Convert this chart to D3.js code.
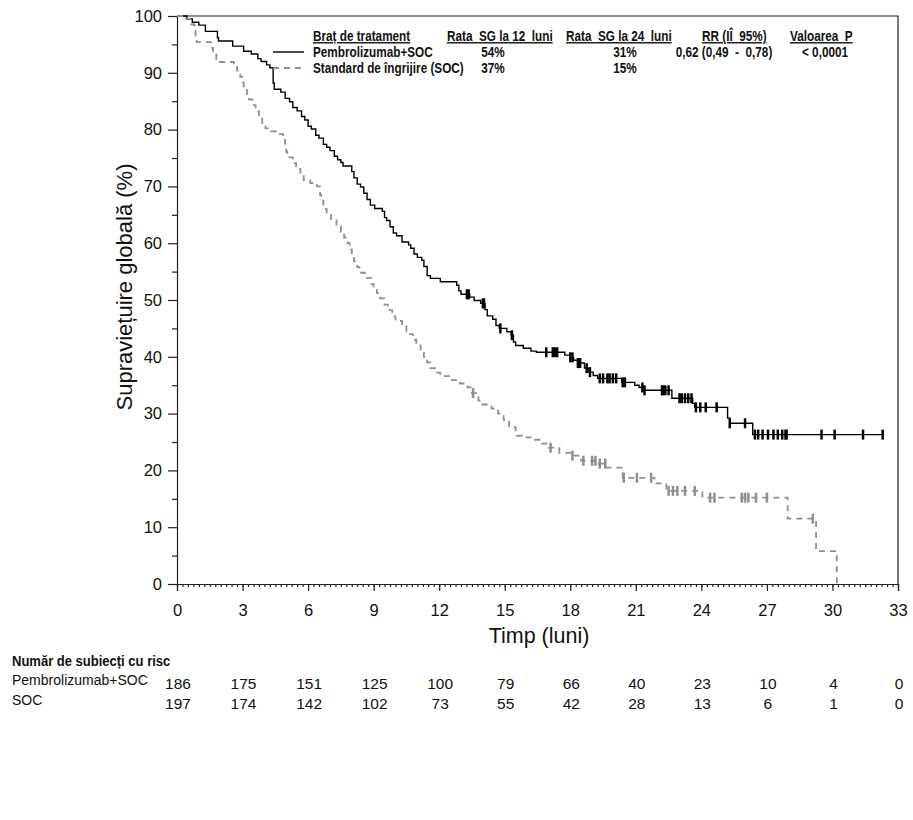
<!DOCTYPE html>
<html>
<head>
<meta charset="utf-8">
<script src="https://cdn.jsdelivr.net/npm/d3@7"></script>
<style>
  body { margin: 0; background: #fff; }
  .narrow { font-family: "Liberation Sans", Arial, sans-serif; font-weight: bold; }
  .reg { font-family: "Liberation Sans", Arial, sans-serif; }
</style>
</head>
<body>
<div id="showBox"></div>
<script>
// Kaplan-Meier steps: time (months) and survival (%) after each step
const pembroTimes = [0, 0.45, 0.7, 1.0, 1.3, 1.85, 1.9, 2.55, 3.05, 3.4, 3.7, 3.85, 4.1, 4.25,
  4.4, 4.45, 4.75, 4.95, 5.15, 5.3, 5.5, 5.7, 5.85, 6.0, 6.15, 6.35, 6.5, 6.7, 6.85, 7.0, 7.2, 7.35, 7.5, 7.6,
  8.0, 8.1, 8.25, 8.4, 8.55, 8.7, 8.85, 9.05, 9.4, 9.5, 9.6, 9.75, 9.9, 10.05, 10.3, 10.6, 10.7, 10.85, 11.0,
  11.2, 11.3, 11.45, 11.6, 12.05, 12.8, 12.9, 13.0, 13.4, 13.6, 13.9, 14.1, 14.2, 14.45, 14.6, 14.75, 15.1,
  15.3, 15.4, 15.5, 15.85, 16.2, 16.45, 17.75, 18.0, 18.15, 18.35, 18.65, 18.85, 19.05, 19.25, 20.35, 20.95,
  21.15, 21.35, 22.65, 23.6, 23.7, 25.2, 25.3, 26.35, 32.3];
const pembroSurv = [100, 99.5, 98.9, 98.4, 97.3, 96.2, 95.6, 94.7, 93.8, 93.3, 92.5, 92.0, 91.4, 90.9,
  88.2, 87.1, 86.6, 85.5, 84.9, 83.9, 83.3, 82.3, 81.7, 80.6, 80.1, 79.0, 78.5, 77.4, 76.9, 76.3, 75.3, 74.7, 74.2, 73.6,
  72.6, 71.5, 70.4, 69.9, 68.8, 67.7, 66.7, 66.1, 65.6, 64.5, 64.0, 62.9, 61.8, 61.3, 60.2, 59.7, 59.1, 58.1, 57.5,
  57.0, 55.9, 54.3, 53.8, 53.2, 52.6, 51.6, 51.0, 50.5, 49.9, 49.4, 48.3, 47.2, 46.6, 45.5, 45.0, 44.4,
  43.8, 42.6, 42.0, 41.5, 41.0, 40.8, 40.3, 39.9, 39.4, 38.9, 38.0, 37.3, 36.7, 36.2, 35.5, 35.0,
  34.6, 34.1, 32.7, 31.8, 31.1, 29.2, 28.3, 26.3, 26.3];
const pembroCensor = [13.27, 13.35, 14.0, 14.05, 14.8, 15.33, 16.9, 17.2, 17.3, 17.4, 18.0, 18.1, 18.35, 18.4, 18.45,
  18.75, 18.9, 19.35, 19.5, 19.7, 19.8, 19.95, 20.1, 20.4, 20.5, 21.3, 21.4, 22.2, 22.25, 22.35, 22.5, 23.0, 23.1,
  23.25, 23.4, 23.55, 23.75, 23.95, 24.2, 24.7, 25.3, 26.0, 26.45, 26.6, 26.8, 27.05, 27.3, 27.5, 27.7, 27.85, 27.9,
  29.5, 30.1, 31.4, 32.3];

const socTimes = [0, 0.3, 0.6, 0.8, 0.85, 0.9, 1.55, 1.65, 1.8, 1.95, 2.6, 2.75, 2.9, 3.0, 3.05, 3.2, 3.3, 3.45, 3.6,
  3.75, 3.9, 4.05, 4.3, 4.7, 4.85, 4.95, 5.0, 5.05, 5.3, 5.45, 5.65, 5.8, 6.1, 6.4, 6.55, 6.6, 6.7, 6.85, 7.05, 7.3,
  7.5, 7.65, 7.8, 7.9, 8.0, 8.1, 8.25, 8.35, 8.6, 8.9, 9.0, 9.15, 9.3, 9.5, 9.65, 9.85, 10.0, 10.3, 10.5, 10.6, 10.8,
  10.95, 11.15, 11.3, 11.45, 11.6, 11.8, 12.05, 12.5, 12.95, 13.3, 13.5, 13.8, 13.9, 14.4, 14.7, 14.95, 15.2, 15.5,
  15.8, 16.3, 16.7, 17.0, 17.5, 18.1, 18.5, 19.3, 19.65, 20.4, 21.85, 22.4, 24.05, 27.95, 29.25, 30.2];
const socSurv = [100, 99.5, 98.5, 97.4, 96.4, 95.4, 94.4, 93.4, 92.4, 91.9, 91.4, 90.4, 89.3, 88.3, 87.3, 86.3, 85.3, 84.3, 83.2,
  82.2, 81.2, 80.2, 79.7, 79.2, 78.2, 77.2, 76.1, 75.1, 74.1, 73.1, 72.1, 71.1, 70.6, 70.0, 68.5, 67.5, 66.0, 65.0, 64.0, 63.0,
  62.0, 61.0, 60.0, 58.9, 57.9, 56.8, 55.8, 54.8, 53.9, 52.8, 51.8, 51.2, 50.3, 49.2, 48.2, 47.1, 46.3, 45.6, 44.5, 44.0, 43.0,
  42.0, 41.0, 40.0, 39.0, 38.0, 37.2, 36.6, 35.9, 35.3, 34.6, 33.6, 32.3, 31.6, 30.9, 30.0, 28.9, 27.6, 26.1,
  25.8, 25.4, 24.7, 24.0, 23.1, 22.6, 21.7, 21.2, 20.5, 18.7, 17.7, 16.4, 15.2, 11.5, 5.8, 0];
const socCensor = [13.55, 17.1, 18.1, 18.6, 19.0, 19.15, 19.35, 19.6, 20.45, 21.05, 21.7, 22.5, 22.7, 22.9, 23.25, 23.7,
  24.4, 24.6, 25.85, 26.0, 26.15, 26.5, 27.0, 29.1];

const xTicks = [0, 3, 6, 9, 12, 15, 18, 21, 24, 27, 30, 33];
const pembroRisk = [186, 175, 151, 125, 100, 79, 66, 40, 23, 10, 4, 0];
const socRisk = [197, 174, 142, 102, 73, 55, 42, 28, 13, 6, 1, 0];

const legendHeaders = ["Braț de tratament", "Rata  SG la 12  luni", "Rata  SG la 24  luni", "RR (IÎ  95%)", "Valoarea  P"];
const legendRows = [
  ["Pembrolizumab+SOC", "54%", "31%", "0,62 (0,49  -  0,78)", "< 0,0001"],
  ["Standard de îngrijire (SOC)", "37%", "15%", "", ""]
];

const W = 913, H = 820;
const m = {left: 177, top: 16, right: 898, bottom: 584};
const GREY = "#8f8f8f";
const NARROW = 0.84; // horizontal squeeze so bold text looks like a condensed face

const x = d3.scaleLinear().domain([0, 33]).range([m.left, m.right]);
const y = d3.scaleLinear().domain([0, 100]).range([m.bottom, m.top]);

const svg = d3.select("#showBox").append("svg")
  .attr("width", W).attr("height", H)
  .style("background", "#fff");

// condensed bold text placed with a scale transform
function narrowText(parent, tx, ty, str, size, anchor) {
  return parent.append("text").attr("class", "narrow")
    .attr("transform", `translate(${tx},${ty}) scale(${NARROW},1)`)
    .attr("text-anchor", anchor || "start")
    .style("font-size", size + "px").attr("fill", "#111")
    .attr("xml:space", "preserve").text(str);
}

// frame
svg.append("path")
  .attr("d", `M${m.left},${m.top}H${m.right}V${m.bottom}`)
  .attr("fill", "none").attr("stroke", "#222").attr("stroke-width", 1.2);

// y axis: minor ticks then labelled ones
svg.append("g").attr("transform", `translate(${m.left},0)`)
  .call(d3.axisLeft(y).tickValues(d3.range(5, 100, 10)).tickSize(5).tickFormat(""))
  .select(".domain").remove();
const yAxis = svg.append("g").attr("transform", `translate(${m.left},0)`)
  .call(d3.axisLeft(y).tickValues(d3.range(0, 101, 10)).tickSize(9));
yAxis.selectAll("text").attr("class", "reg").style("font-size", "16.5px").attr("x", -15).attr("fill", "#111");

// x axis: minor ticks then major
svg.append("g").attr("transform", `translate(0,${m.bottom})`)
  .call(d3.axisBottom(x).tickValues(d3.range(0, 33.01, 0.25)).tickSize(3).tickFormat(""))
  .select(".domain").remove();
const xAxis = svg.append("g").attr("transform", `translate(0,${m.bottom})`)
  .call(d3.axisBottom(x).tickValues(xTicks).tickSize(7));
xAxis.selectAll("text").attr("class", "reg").style("font-size", "16.5px").attr("y", 20).attr("fill", "#111");
svg.selectAll(".domain").attr("stroke", "#222").attr("stroke-width", 1.2);
svg.selectAll(".tick line").attr("stroke", "#222").attr("stroke-width", 1.2);

// axis titles
svg.append("text").attr("class", "reg")
  .attr("transform", "translate(132,287) rotate(-90)")
  .attr("text-anchor", "middle").style("font-size", "22px").attr("fill", "#111")
  .text("Supraviețuire globală (%)");
svg.append("text").attr("class", "reg")
  .attr("x", 539).attr("y", 643)
  .attr("text-anchor", "middle").style("font-size", "21.5px").attr("fill", "#111")
  .text("Timp (luni)");

// curves
const line = d3.line().x(d => x(d[0])).y(d => y(d[1])).curve(d3.curveStepAfter);
const stepAt = (times, surv, t) => surv[d3.bisectRight(times, t) - 1];

const series = [
  {times: pembroTimes, surv: pembroSurv, cens: pembroCensor, color: "#000", dash: null, w: 1.4},
  {times: socTimes, surv: socSurv, cens: socCensor, color: GREY, dash: "6,5", w: 1.8}
];
series.forEach(s => {
  svg.append("path")
    .datum(d3.zip(s.times, s.surv))
    .attr("d", line)
    .attr("fill", "none").attr("stroke", s.color).attr("stroke-width", s.w)
    .attr("stroke-dasharray", s.dash);
  svg.append("g").selectAll("line")
    .data(s.cens)
    .join("line")
    .attr("x1", d => x(d)).attr("x2", d => x(d))
    .attr("y1", d => y(stepAt(s.times, s.surv, d)) - 5)
    .attr("y2", d => y(stepAt(s.times, s.surv, d)) + 5)
    .attr("stroke", s.color).attr("stroke-width", 2.5);
});

// legend table
const colX = [313, 447, 566, 702, 790];
const colMid = [null, 493, 625, 724, 825];
const leg = svg.append("g");
legendHeaders.forEach((h, i) => {
  narrowText(leg, colX[i], 41, h, 14).style("text-decoration", "underline");
});
legendRows.forEach((r, j) => {
  const yy = 57 + j * 16;
  leg.append("line").attr("x1", 273).attr("x2", 304).attr("y1", yy - 5).attr("y2", yy - 5)
    .attr("stroke", series[j].color).attr("stroke-width", series[j].w).attr("stroke-dasharray", series[j].dash);
  r.forEach((c, i) => {
    if (!c) return;
    narrowText(leg, i === 0 ? colX[0] : colMid[i], yy, c, 14, i === 0 ? "start" : "middle");
  });
});

// risk table
narrowText(svg, 12, 666, "Număr de subiecți cu risc", 15.5);
[["Pembrolizumab+SOC", pembroRisk, 685], ["SOC", socRisk, 705]].forEach(([lab, vals, yy]) => {
  svg.append("text").attr("class", "reg").attr("x", 12).attr("y", yy)
    .style("font-size", "14px").attr("fill", "#111").text(lab);
  svg.append("g").selectAll("text").data(vals).join("text")
    .attr("class", "reg").attr("x", (d, i) => x(xTicks[i]) + 1).attr("y", yy + 4)
    .attr("text-anchor", "middle").style("font-size", "15.5px").attr("fill", "#111")
    .text(d => d);
});
</script>
</body>
</html>
